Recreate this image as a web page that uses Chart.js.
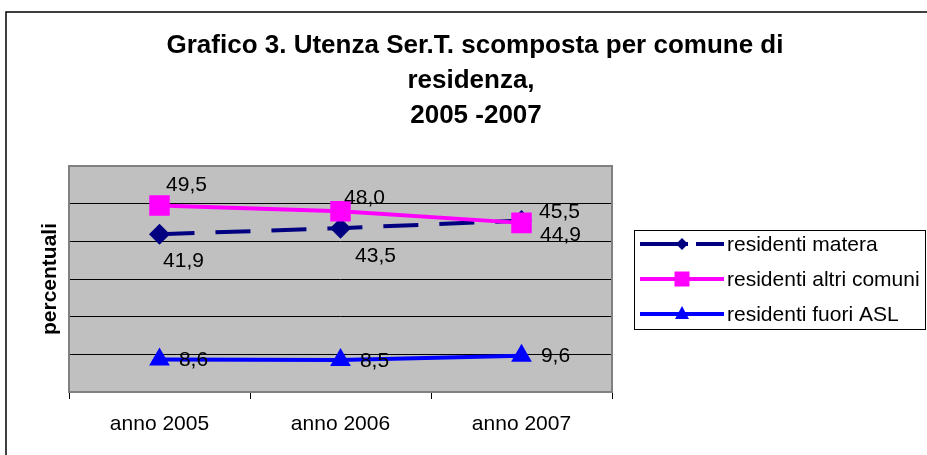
<!DOCTYPE html>
<html>
<head>
<meta charset="utf-8">
<script src="https://cdn.jsdelivr.net/npm/chart.js@4/dist/chart.umd.min.js"></script>
<style>
  html, body { margin: 0; padding: 0; background: #fff; }
  #wrap { width: 927px; height: 455px; }
</style>
</head>
<body>
<div id="wrap"><canvas id="chart" width="927" height="455"></canvas></div>
<script>
const years = ["anno 2005", "anno 2006", "anno 2007"];
const materaValues = [41.9, 43.5, 45.5];
const altriComuniValues = [49.5, 48.0, 44.9];
const fuoriAslValues = [8.6, 8.5, 9.6];
const yTicks = [0, 10, 20, 30, 40, 50, 60];

const titleLines = ["Grafico 3. Utenza Ser.T. scomposta per comune di", "residenza,", "2005 -2007"];
const FONT = "'Liberation Sans', Arial, sans-serif";

// where each value label sits relative to its point (dx, dy)
const labelOffsets = [
  [[24, 27], [35, 28], [38, -8]],
  [[27, -20], [24, -13], [39, 12]],
  [[34, 1], [34, 1], [34, 0]],
];

const fmt = (v) => v.toFixed(1).replace(".", ",");

const bgPlugin = {
  id: "plotBg",
  beforeDraw(chart) {
    const { ctx, chartArea: a } = chart;
    ctx.save();
    ctx.fillStyle = "#c0c0c0";
    ctx.fillRect(a.left, a.top, a.right - a.left, a.bottom - a.top);
    ctx.restore();
  },
  beforeDatasetsDraw(chart) {
    const { ctx, chartArea: a } = chart;
    ctx.save();
    ctx.strokeStyle = "#808080";
    ctx.lineWidth = 2;
    ctx.strokeRect(a.left, a.top, a.right - a.left, a.bottom - a.top);
    ctx.restore();
  },
};

const decoPlugin = {
  id: "deco",
  afterDraw(chart) {
    const { ctx } = chart;
    ctx.save();
    // outer frame
    ctx.strokeStyle = "#000";
    ctx.lineWidth = 1.5;
    ctx.beginPath();
    ctx.moveTo(6, 460);
    ctx.lineTo(6, 12);
    ctx.lineTo(935, 12);
    ctx.stroke();

    // title
    ctx.fillStyle = "#000";
    ctx.font = "bold 26px " + FONT;
    ctx.textAlign = "center";
    ctx.textBaseline = "middle";
    const ty = [46, 81, 116];
    const tx = [475, 471, 476];
    titleLines.forEach((t, i) => ctx.fillText(t, tx[i], ty[i]));

    // y axis title
    ctx.save();
    ctx.translate(50, 279);
    ctx.rotate(-Math.PI / 2);
    ctx.font = "bold 21px " + FONT;
    ctx.fillText("percentuali", 0, 0);
    ctx.restore();

    // value labels
    ctx.font = "21px " + FONT;
    ctx.textAlign = "center";
    chart.data.datasets.forEach((ds, di) => {
      const meta = chart.getDatasetMeta(di);
      meta.data.forEach((pt, i) => {
        const [dx, dy] = labelOffsets[di][i];
        ctx.fillText(fmt(ds.data[i]), pt.x + dx, pt.y + dy);
      });
    });

    // legend
    ctx.lineWidth = 1;
    ctx.strokeStyle = "#000";
    ctx.strokeRect(634.5, 230.5, 291, 99);
    const rows = [244, 279, 314];
    ctx.textAlign = "left";
    chart.data.datasets.forEach((ds, i) => {
      const y = rows[i];
      ctx.strokeStyle = ds.borderColor;
      ctx.fillStyle = ds.borderColor;
      ctx.lineWidth = 4;
      ctx.beginPath();
      if (ds.borderDash) {
        ctx.moveTo(640, y); ctx.lineTo(688, y);
        ctx.moveTo(696, y); ctx.lineTo(724, y);
      } else {
        ctx.moveTo(640, y); ctx.lineTo(724, y);
      }
      ctx.stroke();
      const cx = 682;
      ctx.beginPath();
      if (ds.pointStyle === "rectRot") {
        ctx.moveTo(cx, y - 6); ctx.lineTo(cx + 6, y); ctx.lineTo(cx, y + 6); ctx.lineTo(cx - 6, y);
      } else if (ds.pointStyle === "rect") {
        ctx.rect(cx - 7.5, y - 7.5, 15, 15);
      } else {
        ctx.moveTo(cx, y - 8); ctx.lineTo(cx + 7, y + 5); ctx.lineTo(cx - 7, y + 5);
      }
      ctx.closePath();
      ctx.fill();
      ctx.fillStyle = "#000";
      ctx.font = "21px " + FONT;
      ctx.textBaseline = "middle";
      ctx.fillText(ds.label, 727, y + 1);
    });
    ctx.restore();
  },
};

new Chart(document.getElementById("chart"), {
  type: "line",
  data: {
    labels: years,
    datasets: [
      {
        label: "residenti matera",
        data: materaValues,
        borderColor: "#000080",
        backgroundColor: "#000080",
        borderWidth: 4,
        borderDash: [35, 21],
        pointStyle: "rectRot",
        pointRadius: 10.5,
        pointBorderWidth: 0,
        order: 2,
      },
      {
        label: "residenti altri comuni",
        data: altriComuniValues,
        borderColor: "#ff00ff",
        backgroundColor: "#ff00ff",
        borderWidth: 4,
        pointStyle: "rect",
        pointRadius: 14.5,
        pointBorderWidth: 0,
        order: 1,
      },
      {
        label: "residenti fuori ASL",
        data: fuoriAslValues,
        borderColor: "#0000ff",
        backgroundColor: "#0000ff",
        borderWidth: 4,
        pointStyle: "triangle",
        pointRadius: 12,
        pointBorderWidth: 0,
        order: 0,
      },
    ],
  },
  options: {
    responsive: false,
    animation: false,
    events: [],
    layout: { padding: { left: 69, top: 166, right: 315, bottom: 0 } },
    plugins: {
      legend: { display: false },
      title: { display: false },
      tooltip: { enabled: false },
    },
    scales: {
      x: {
        offset: true,
        afterFit: (s) => { s.height = 63; },
        grid: {
          offset: true,
          drawOnChartArea: false,
          drawTicks: true,
          tickLength: 7,
          color: "#000",
        },
        border: { display: true, color: "#808080", width: 2 },
        ticks: {
          color: "#000",
          padding: 13,
          maxRotation: 0,
          font: { family: FONT, size: 21 },
        },
      },
      y: {
        min: yTicks[0],
        max: yTicks[yTicks.length - 1],
        afterBuildTicks: (s) => { s.ticks = yTicks.map((v) => ({ value: v })); },
        ticks: { display: false },
        grid: { color: "#000", lineWidth: 1, drawTicks: false },
        border: { display: false },
      },
    },
  },
  plugins: [bgPlugin, decoPlugin],
});
</script>
</body>
</html>
